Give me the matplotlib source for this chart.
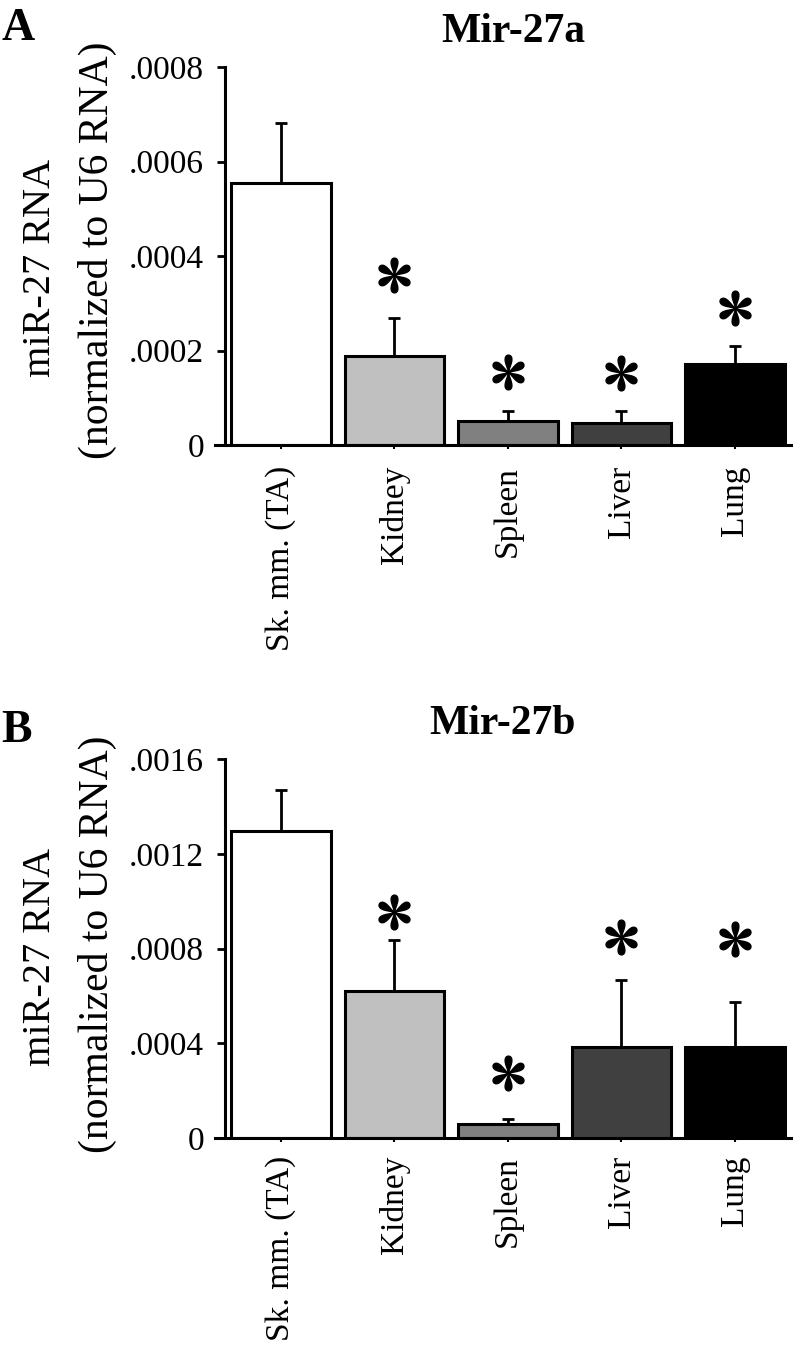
import matplotlib
matplotlib.use("Agg")
import numpy as np
import matplotlib.pyplot as plt
from matplotlib.path import Path
from matplotlib.ticker import FuncFormatter

plt.rcParams['font.family'] = ['Liberation Serif', 'DejaVu Serif']

tissues = ['Sk. mm. (TA)', 'Kidney', 'Spleen', 'Liver', 'Lung']
bar_colors = ['#ffffff', '#c0c0c0', '#808080', '#404040', '#000000']

# Mir-27a
mir27a = [0.000554, 0.000188, 0.000051, 0.000046, 0.000171]
mir27a_err = [0.000128, 0.000081, 0.000021, 0.000026, 0.000039]
mir27a_star = [None, 0.00036, 0.000155, 0.000152, 0.00029]

# Mir-27b
mir27b = [0.001298, 0.000622, 0.000059, 0.000384, 0.000386]
mir27b_err = [0.000172, 0.000215, 0.000022, 0.000281, 0.000188]
mir27b_star = [None, 0.000955, 0.000276, 0.000849, 0.000841]

W, H = 793, 1348


def fmt(v, pos):
    if v == 0:
        return '0'
    return ('%.4f' % v).lstrip('0')


def star_marker():
    # six teardrop petals, like a Times asterisk
    t = np.linspace(0, 2 * np.pi, 60)
    s = (1 - np.cos(t)) / 2
    h = 0.3 * np.sin(t) * s
    verts, codes = [], []
    for ang in [90, 30, -30, -90, -150, 150]:
        a = np.radians(ang)
        px = s * np.cos(a) - h * np.sin(a)
        py = s * np.sin(a) + h * np.cos(a)
        pts = list(zip(px, py))
        verts += pts + [pts[0]]
        codes += [Path.MOVETO] + [Path.LINETO] * (len(pts) - 1) + [Path.CLOSEPOLY]
    return Path(verts, codes)


STAR = star_marker()


def draw_panel(rect, vals, errs, stars, ymax, yticks, label_pad):
    ax = fig.add_axes(rect)
    x = list(range(len(tissues)))
    ax.bar(x, vals, width=0.88, color=bar_colors, edgecolor='black', linewidth=2.2, zorder=2)
    ax.errorbar(x, vals, yerr=[[0] * len(errs), errs], fmt='none', ecolor='black',
                elinewidth=2, capsize=4, capthick=2, zorder=3)
    sx = [xi for xi, s in zip(x, stars) if s is not None]
    sy = [s for s in stars if s is not None]
    ax.plot(sx, sy, linestyle='none', marker=STAR, markersize=25, color='black', zorder=4)
    ax.set_xlim(-0.581, 4.502)
    ax.set_ylim(0, ymax)
    ax.spines['top'].set_visible(False)
    ax.spines['right'].set_visible(False)
    ax.spines['left'].set_position(('data', -0.493))
    ax.spines['left'].set_linewidth(2.2)
    ax.spines['bottom'].set_linewidth(2.2)
    ax.set_yticks(yticks)
    ax.yaxis.set_major_formatter(FuncFormatter(fmt))
    ax.tick_params(axis='y', length=6, width=2, labelsize=24, pad=9)
    ax.set_xticks(x)
    ax.set_xticklabels(tissues, rotation=90, fontsize=24)
    ax.tick_params(axis='x', length=3, width=1.5, pad=label_pad)
    return ax


fig = plt.figure(figsize=(W / 100, H / 100), dpi=100)

axA = draw_panel([215 / W, 1 - 445 / H, 577 / W, 378 / H], mir27a, mir27a_err, mir27a_star,
                 0.0008, [0, 0.0002, 0.0004, 0.0006, 0.0008], 12)
axB = draw_panel([215 / W, 1 - 1138 / H, 577 / W, 379 / H], mir27b, mir27b_err, mir27b_star,
                 0.0016, [0, 0.0004, 0.0008, 0.0012, 0.0016], 10)

# panel letters and titles
fig.text(1 / W, 1 - 40 / H, 'A', fontsize=33, fontweight='bold', va='baseline')
fig.text(1 / W, 1 - 742 / H, 'B', fontsize=33, fontweight='bold', va='baseline')
fig.text(513 / W, 1 - 42 / H, 'Mir-27a', fontsize=30, fontweight='bold', ha='center', va='baseline')
fig.text(503 / W, 1 - 734 / H, 'Mir-27b', fontsize=30, fontweight='bold', ha='center', va='baseline')

# y labels
for c1, c2 in [(268, 250), (957, 944)]:
    fig.text(41 / W, 1 - c1 / H, 'miR-27 RNA', rotation=90, fontsize=29,
             ha='center', va='center')
    fig.text(97 / W, 1 - c2 / H, '(normalized to U6 RNA)', rotation=90, fontsize=30,
             ha='center', va='center')

fig.savefig('out.png', dpi=100)
